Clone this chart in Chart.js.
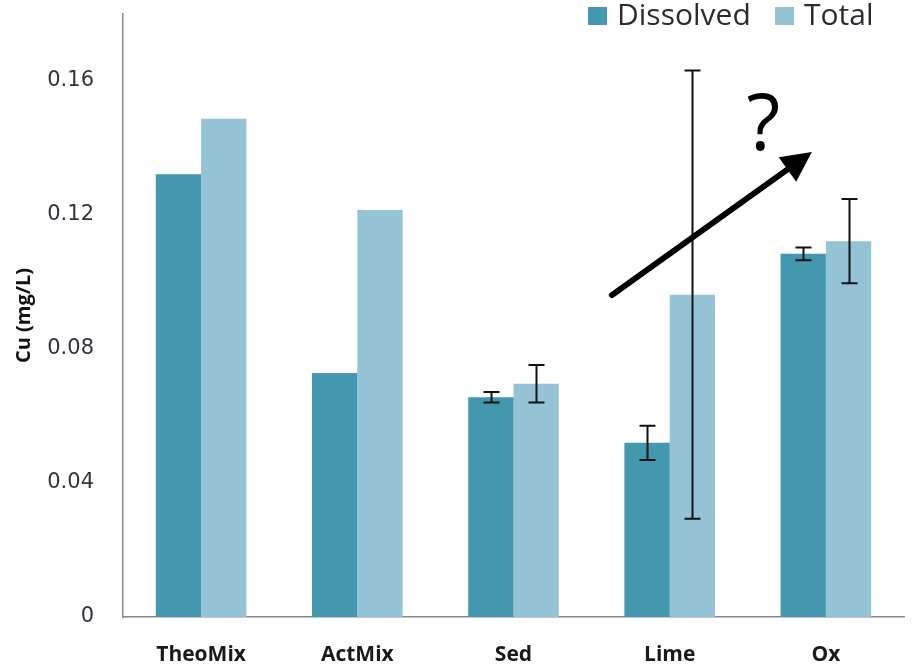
<!DOCTYPE html>
<html lang="en">
<head>
  <meta charset="UTF-8">
  <title>Cu concentration by treatment</title>
  <script src="https://cdn.jsdelivr.net/npm/chart.js"></script>
  <style>
    html, body { margin: 0; padding: 0; background: #fff; }
    #wrap { width: 913px; height: 671px; position: relative; }
  </style>
</head>
<body>
  <div id="wrap">
    <canvas id="myChart"></canvas>
  </div>

  <script>
    // data
    const categories = ['TheoMix', 'ActMix', 'Sed', 'Lime', 'Ox'];
    const dissolved = [0.1322, 0.0728, 0.0656, 0.0520, 0.1084];
    const dissolvedErr = [0, 0, 0.0016, 0.0051, 0.0019];
    const total = [0.1487, 0.1215, 0.0696, 0.0962, 0.1122];
    const totalErr = [0, 0, 0.0056, 0.0669, 0.0126];
    const yTicks = [0, 0.04, 0.08, 0.12, 0.16];

    // arrow and question mark, in axis units (category index, mg/L)
    const arrowFrom = [2.63, 0.0961];
    const arrowTo = [3.91, 0.1388];
    const markAt = [3.60, 0.1394];

    const colDissolved = '#4397ae';
    const colTotal = '#93c3d5';

    // error bars, legend and the arrow note
    const extras = {
      id: 'extras',
      afterDatasetsDraw(chart) {
        const ctx = chart.ctx;
        const errs = [dissolvedErr, totalErr];
        ctx.save();
        ctx.strokeStyle = '#111';
        ctx.lineWidth = 2;
        chart.data.datasets.forEach((ds, di) => {
          const meta = chart.getDatasetMeta(di);
          const y = chart.scales.y;
          meta.data.forEach((bar, i) => {
            const e = errs[di][i];
            if (!e) return;
            const v = ds.data[i];
            const top = y.getPixelForValue(v + e);
            const bot = y.getPixelForValue(v - e);
            const x = Math.round(bar.x) + 0.5;
            ctx.beginPath();
            ctx.moveTo(x, top); ctx.lineTo(x, bot);
            ctx.moveTo(x - 8, top); ctx.lineTo(x + 8, top);
            ctx.moveTo(x - 8, bot); ctx.lineTo(x + 8, bot);
            ctx.stroke();
          });
        });

        // arrow
        const xs = chart.scales.x, ys = chart.scales.y;
        const x1 = xs.getPixelForValue(arrowFrom[0]), y1 = ys.getPixelForValue(arrowFrom[1]);
        const x2 = xs.getPixelForValue(arrowTo[0]), y2 = ys.getPixelForValue(arrowTo[1]);
        const ang = Math.atan2(y2 - y1, x2 - x1);
        const headLen = 30, headW = 15;
        const bx = x2 - headLen * Math.cos(ang), by = y2 - headLen * Math.sin(ang);
        ctx.strokeStyle = '#000';
        ctx.fillStyle = '#000';
        ctx.lineWidth = 6;
        ctx.lineCap = 'round';
        ctx.beginPath();
        ctx.moveTo(x1, y1); ctx.lineTo(bx + 4 * Math.cos(ang), by + 4 * Math.sin(ang));
        ctx.stroke();
        ctx.beginPath();
        ctx.moveTo(x2, y2);
        ctx.lineTo(bx - headW * Math.sin(ang), by + headW * Math.cos(ang));
        ctx.lineTo(bx + headW * Math.sin(ang), by - headW * Math.cos(ang));
        ctx.closePath();
        ctx.fill();

        ctx.font = '78px "Open Sans", sans-serif';
        ctx.textAlign = 'center';
        ctx.textBaseline = 'alphabetic';
        ctx.fillText('?', xs.getPixelForValue(markAt[0]), ys.getPixelForValue(markAt[1]));

        // legend
        ctx.font = '30px "Open Sans", sans-serif';
        ctx.textAlign = 'left';
        ctx.textBaseline = 'alphabetic';
        const items = [[chart.data.datasets[0], 588], [chart.data.datasets[1], 775]];
        items.forEach(([ds, lx]) => {
          ctx.fillStyle = ds.backgroundColor;
          ctx.fillRect(lx, 7, 19, 18);
          ctx.fillStyle = '#2b2b33';
          ctx.fillText(ds.label, lx + 29, 25);
        });
        ctx.restore();
      }
    };

    const ctx = document.getElementById('myChart').getContext('2d');
    const myChart = new Chart(ctx, {
      type: 'bar',
      data: {
        labels: categories,
        datasets: [
          { label: 'Dissolved', data: dissolved, backgroundColor: colDissolved },
          { label: 'Total', data: total, backgroundColor: colTotal },
        ],
      },
      options: {
        responsive: true,
        maintainAspectRatio: false,
        animation: false,
        layout: { padding: { top: 14, right: 9, left: 0, bottom: 0 } },
        datasets: { bar: { categoryPercentage: 0.58, barPercentage: 1.0 } },
        plugins: { legend: { display: false }, tooltip: { enabled: false } },
        scales: {
          x: {
            grid: { display: false, drawTicks: false },
            border: { color: '#888', width: 1.5 },
            ticks: {
              color: '#1a1a1a',
              padding: 25,
              font: { family: '"Open Sans", sans-serif', size: 21, weight: 'bold' },
            },
            afterFit(scale) { scale.height = 54; },
          },
          y: {
            min: 0,
            max: 0.18,
            grid: { display: false, drawTicks: false },
            border: { color: '#888', width: 1.5 },
            afterBuildTicks(scale) { scale.ticks = yTicks.map(v => ({ value: v })); },
            ticks: {
              color: '#33333d',
              padding: 29,
              font: { family: '"DejaVu Sans", sans-serif', size: 21 },
              callback: v => String(v),
            },
            title: {
              display: true,
              text: 'Cu (mg/L)',
              color: '#111',
              padding: { top: 12, bottom: 0 },
              font: { family: '"Open Sans", sans-serif', size: 20, weight: 'bold' },
            },
            afterFit(scale) {
              scale.width = 123;
              scale.paddingTop = 0;
              scale.paddingBottom = 0;
            },
          },
        },
      },
      plugins: [extras],
    });
  </script>
</body>
</html>
